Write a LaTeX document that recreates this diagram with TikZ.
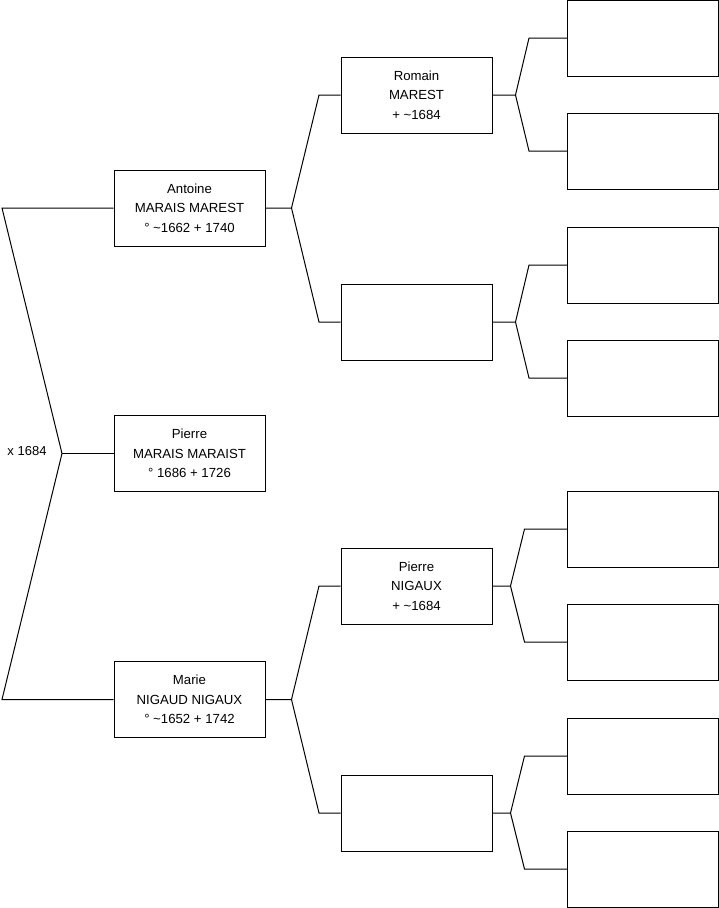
\documentclass[tikz,border=0pt]{standalone}
\usepackage{fontspec}
\setmainfont{Liberation Sans}
\usetikzlibrary{positioning}
\newcommand{\tld}{\textasciitilde}
\tikzset{
  person/.style={draw=black,line width=1pt,fill=white,align=center,
                 minimum width=151pt,minimum height=76pt,inner sep=0pt,
                 font=\fontsize{13.2}{19.5}\selectfont},
  link/.style={draw=black,line width=1pt,line join=miter},
  wed/.style={font=\fontsize{13}{15}\selectfont,inner sep=0pt},
}
\begin{document}
\begin{tikzpicture}[x=1pt,y=-1pt]
    \useasboundingbox (0,0) rectangle (719,908);
    \node[person] (ant) at (189.5,208) {Antoine\\MARAIS MAREST\\° \tld1662 + 1740};
    \node[person] (pie) at (189.5,453.5) {Pierre\\MARAIS MARAIST\\° 1686 + 1726};
    \node[person] (mar) at (189.5,699.5) {Marie\\NIGAUD NIGAUX\\° \tld1652 + 1742};
    \node[person] (rom) at (416.5,95) {Romain\\MAREST\\+ \tld1684};
    \node[person] (anf) at (416.5,322) {};
    \node[person] (pin) at (416.5,586) {Pierre\\NIGAUX\\+ \tld1684};
    \node[person] (maf) at (416.5,813) {};
    \node[person] (g1) at (643,38) {};
    \node[person] (g2) at (643,151) {};
    \node[person] (g3) at (643,265) {};
    \node[person] (g4) at (643,378) {};
    \node[person] (g5) at (643,529) {};
    \node[person] (g6) at (643,642) {};
    \node[person] (g7) at (643,756) {};
    \node[person] (g8) at (643,869) {};
    \node[wed] (wed) at (27,451.5) {x 1684};
    \coordinate (jp) at (62,453.5);
    \coordinate (ja) at (291.5,208);
    \coordinate (jm) at (291.5,699.5);
    \coordinate (jr) at (515.5,95);
    \coordinate (jaf) at (515.5,322);
    \coordinate (jn) at (510.5,586);
    \coordinate (jmf) at (510.5,813);
    \draw[link] (ant.west) -- (2,208) -- (jp) -- (2,699.5) -- (mar.west);
    \draw[link] (jp) -- (pie.west);
    \draw[link] (ant.east) -- (ja) -- ([xshift=-21.5pt]rom.west) -- (rom.west);
    \draw[link] (ja) -- ([xshift=-21.5pt]anf.west) -- (anf.west);
    \draw[link] (mar.east) -- (jm) -- ([xshift=-21.5pt]pin.west) -- (pin.west);
    \draw[link] (jm) -- ([xshift=-21.5pt]maf.west) -- (maf.west);
    \draw[link] (rom.east) -- (jr) -- ([xshift=-38pt]g1.west) -- (g1.west);
    \draw[link] (jr) -- ([xshift=-38pt]g2.west) -- (g2.west);
    \draw[link] (anf.east) -- (jaf) -- ([xshift=-38pt]g3.west) -- (g3.west);
    \draw[link] (jaf) -- ([xshift=-38pt]g4.west) -- (g4.west);
    \draw[link] (pin.east) -- (jn) -- ([xshift=-42.5pt]g5.west) -- (g5.west);
    \draw[link] (jn) -- ([xshift=-42.5pt]g6.west) -- (g6.west);
    \draw[link] (maf.east) -- (jmf) -- ([xshift=-42.5pt]g7.west) -- (g7.west);
    \draw[link] (jmf) -- ([xshift=-42.5pt]g8.west) -- (g8.west);
\end{tikzpicture}
\end{document}
